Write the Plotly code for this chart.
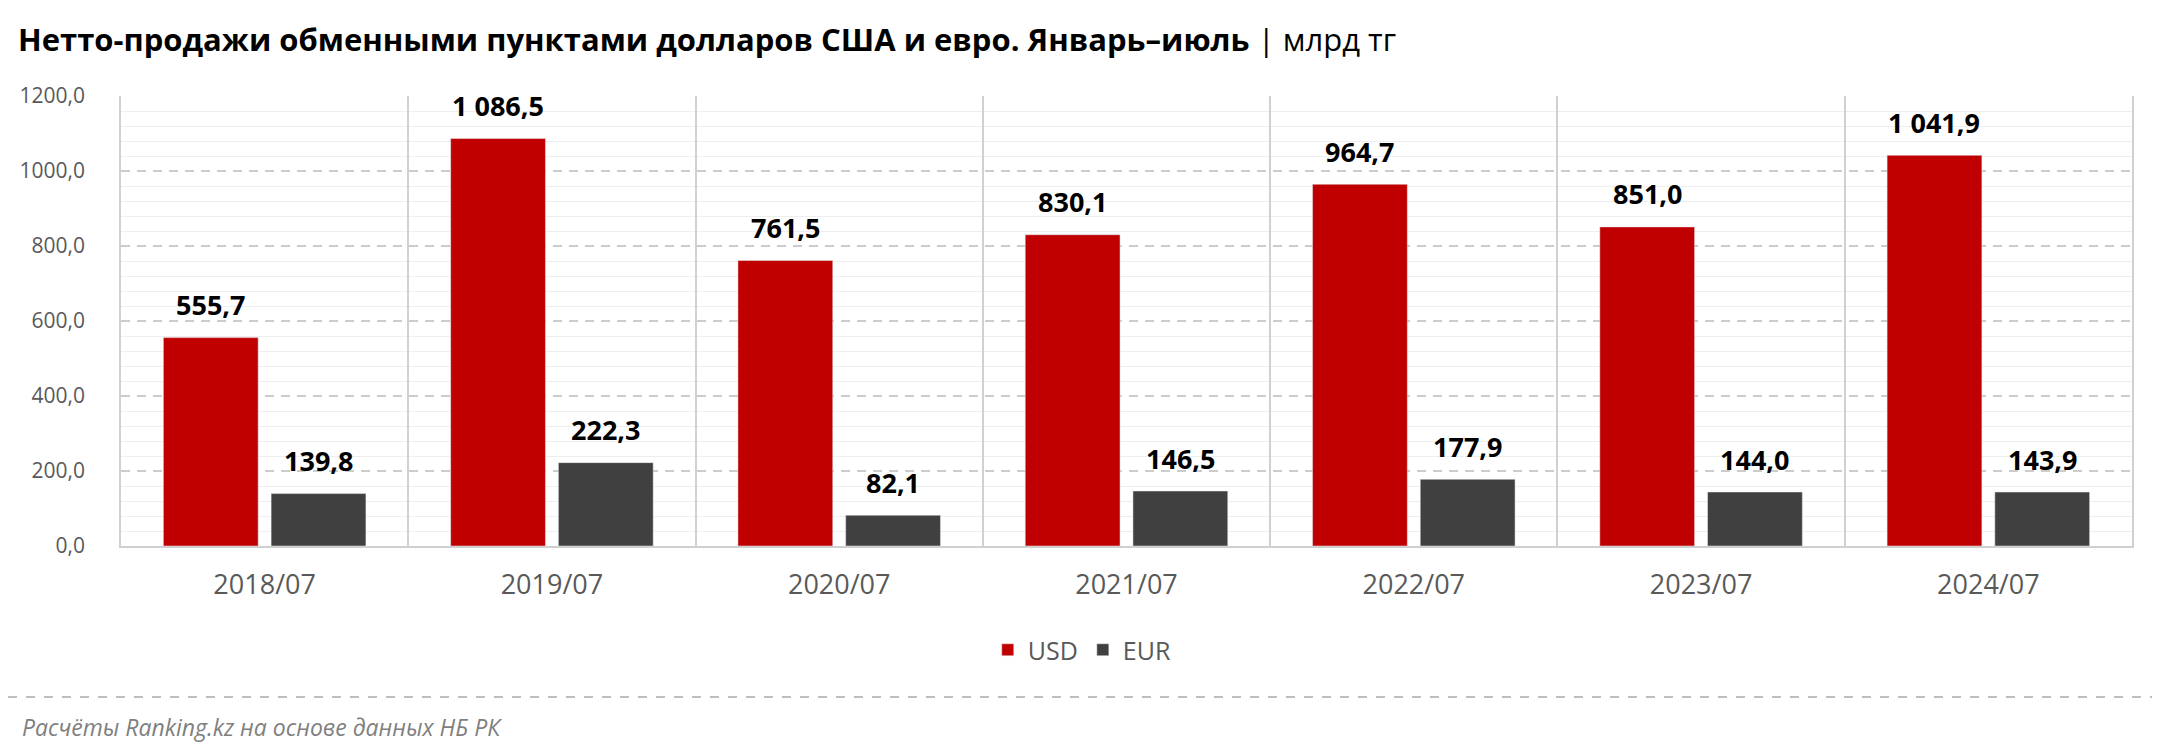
import plotly.graph_objects as go

# data
periods = ["2018/07", "2019/07", "2020/07", "2021/07", "2022/07", "2023/07", "2024/07"]
usd = [555.7, 1086.5, 761.5, 830.1, 964.7, 851.0, 1041.9]
eur = [139.8, 222.3, 82.1, 146.5, 177.9, 144.0, 143.9]

W, H = 2160, 753
ML, MR, MT, MB = 113, 36, 88, 215
BARGAP = 0.25
FONT = "Open Sans"
GREY = "#595959"


def fmt(v):
    return f"{v:,.1f}".replace(",", " ").replace(".", ",")


fig = go.Figure()
fig.add_trace(go.Bar(name="USD", x=periods, y=usd, marker_color="#C00000"))
fig.add_trace(go.Bar(name="EUR", x=periods, y=eur, marker_color="#404040"))

# value labels above bars
cat_px = (W - ML - MR) / len(periods)
half = cat_px * (1 - BARGAP) / 4
annotations = []
for series, shift in ((usd, -half), (eur, half)):
    for p, v in zip(periods, series):
        annotations.append(dict(
            x=p, y=v, xref="x", yref="y", text=fmt(v), showarrow=False,
            xshift=shift, yshift=33, yanchor="middle",
            font=dict(family=FONT, size=27, color="#000000", weight="bold"),
        ))

plot_h = H - MT - MB
base = H - MB
annotations.append(dict(
    xref="paper", yref="paper", x=-(ML - 12) / (W - ML - MR), y=-(719 - base) / plot_h,
    xanchor="left", yanchor="middle", showarrow=False,
    text="<i>Расчёты Ranking.kz на основе данных НБ РК</i>",
    font=dict(family=FONT, size=23, color="#7f7f7f"),
))

fig.update_layout(
    width=W, height=H,
    margin=dict(l=ML, r=MR, t=MT, b=MB),
    paper_bgcolor="white", plot_bgcolor="white",
    barmode="group", bargap=BARGAP, bargroupgap=0.12,
    font=dict(family=FONT, color=GREY),
    title=dict(
        text="<b>Нетто-продажи обменными пунктами долларов США и евро. Январь–июль</b>"
             " <span style='color:#000'>|</span> млрд тг",
        xref="container", yref="container", x=10 / W, y=1 - 32 / H,
        xanchor="left", yanchor="middle",
        font=dict(family=FONT, size=31, color="#000000"),
    ),
    legend=dict(
        orientation="h", x=0.478, y=-(642 - base) / plot_h,
        xanchor="center", yanchor="middle",
        font=dict(family=FONT, size=25, color=GREY),
    ),
    annotations=annotations,
    shapes=[dict(
        type="line", xref="paper", yref="paper",
        x0=-ML / (W - ML - MR), x1=(W - ML) / (W - ML - MR),
        y0=-(689 - base) / plot_h, y1=-(689 - base) / plot_h,
        line=dict(color="#bfbfbf", width=2, dash="dash"),
    )],
)

fig.update_yaxes(
    range=[0, 1200], dtick=200, tickformat=".1f",
    showgrid=True, gridcolor="#cccccc", gridwidth=1.5, griddash="9px,7px",
    minor=dict(dtick=40, showgrid=True, gridcolor="#eeeeee", gridwidth=1, griddash="solid"),
    showline=True, mirror=True, linecolor="#d0d0d0", linewidth=1.5,
    zeroline=False, ticklabelstandoff=30,
    tickfont=dict(family=FONT, size=21, color=GREY),
)
fig.update_xaxes(
    tickson="boundaries", showgrid=True, gridcolor="#d0d0d0", gridwidth=1.5,
    showline=True, linecolor="#d0d0d0", linewidth=2, ticks="",
    ticklabelstandoff=14,
    tickfont=dict(family=FONT, size=27, color=GREY),
)
fig.update_layout(separators=", ")

fig.write_html("out.html")
